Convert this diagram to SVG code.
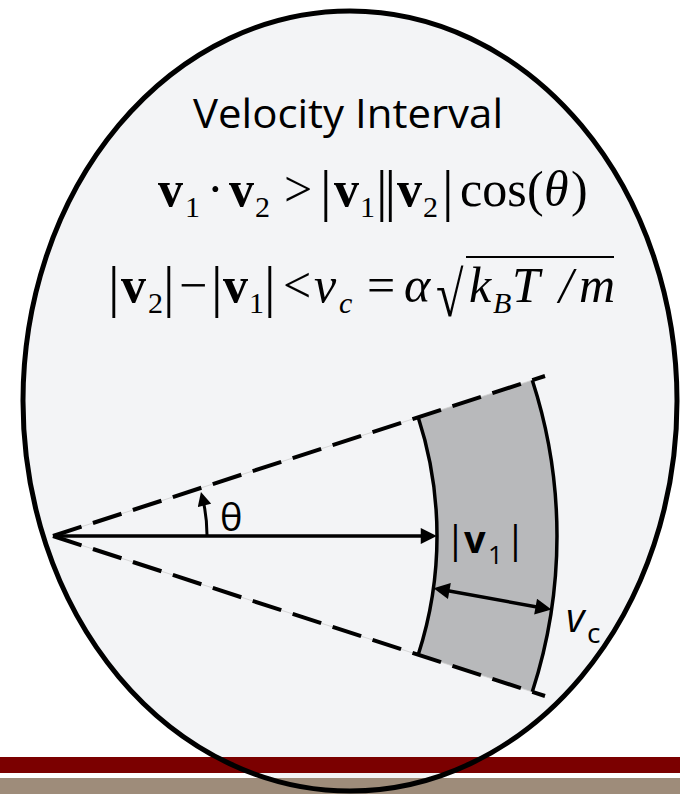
<svg xmlns="http://www.w3.org/2000/svg" width="680" height="794" viewBox="0 0 680 794">
<style>
.m{font-family:"Liberation Serif","Times New Roman",serif;font-size:50px;fill:#000}
.b{font-weight:bold}
.i{font-style:italic}
.s{font-size:30px}
.bar{font-family:"Liberation Serif","Times New Roman",serif;font-size:58px;fill:#000}
.sans{font-family:"Open Sans","Liberation Sans",sans-serif;fill:#000}
.dash{fill:none;stroke:#000;stroke-width:4;stroke-dasharray:30 12}
.hair{fill:none;stroke:#cfcfcf;stroke-width:0.8}
.arc{fill:none;stroke:#000;stroke-width:3.5}
.arr{fill:none;stroke:#000;stroke-width:3.5}
</style>
<defs>
<marker id="ah" viewBox="0 0 10 10" refX="7" refY="5" markerWidth="5" markerHeight="4.6" orient="auto-start-reverse" markerUnits="strokeWidth">
<path d="M0,0 L10,5 L0,10 Z" fill="#000"/>
</marker>
</defs>
<rect width="680" height="794" fill="#fff"/>
<g id="oval">
<ellipse cx="350" cy="401" rx="327" ry="390" fill="#F3F4F6"/>
</g>
<g id="band">
<path d="M418.2,417.3 A384,384 0 0 1 418.2,654.7 L532.3,691.8 A504,504 0 0 0 532.3,380.2 Z" fill="#B8B9BB"/>
</g>
<g id="connectors">
<path class="hair" d="M53,536 L545,376 M53,536 L545,696"/>
<path class="dash" d="M53,536 L545,376"/>
<path class="dash" d="M53,536 L545,696"/>
<path class="arc" d="M418.2,417.3 A384,384 0 0 1 418.2,654.7"/>
<path class="arc" d="M532.3,380.2 A504,504 0 0 1 532.3,691.8"/>
<path class="arr" d="M53,536 L432,536" marker-end="url(#ah)"/>
<path class="arr" d="M438.3,589 L546.7,608.7" marker-start="url(#ah)" marker-end="url(#ah)"/>
<path fill="none" stroke="#000" stroke-width="3" d="M207,536 A154,154 0 0 0 202,496" marker-end="url(#ah)"/>
</g>
<g id="title">
<text class="sans" x="348" y="128" font-size="40" text-anchor="middle" textLength="310" lengthAdjust="spacingAndGlyphs">Velocity Interval</text>
</g>
<g id="eq1">
<text class="m b" x="158" y="206">v</text>
<text class="m s" x="185" y="217">1</text>
<text class="m" x="207" y="206">·</text>
<text class="m b" x="229" y="206">v</text>
<text class="m s" x="255" y="217">2</text>
<text class="m" x="284" y="206">&gt;</text>
<text class="bar" x="320" y="210">|</text>
<text class="m b" x="334" y="206">v</text>
<text class="m s" x="360" y="217">1</text>
<text class="bar" x="376" y="210" letter-spacing="-3">||</text>
<text class="m b" x="397" y="206">v</text>
<text class="m s" x="423" y="217">2</text>
<text class="bar" x="442" y="210">|</text>
<text class="m" x="460" y="206">cos</text>
<text class="m" x="527" y="206">(</text>
<text class="m i" x="544" y="206">θ</text>
<text class="m" x="571" y="206">)</text>
</g>
<g id="eq2">
<text class="bar" x="108" y="306">|</text>
<text class="m b" x="121" y="302">v</text>
<text class="m s" x="148" y="313">2</text>
<text class="bar" x="163" y="306">|</text>
<text class="m" x="179" y="302">−</text>
<text class="bar" x="211" y="306">|</text>
<text class="m b" x="223" y="302">v</text>
<text class="m s" x="249" y="313">1</text>
<text class="bar" x="264" y="306">|</text>
<text class="m" x="283" y="302">&lt;</text>
<text class="m i" x="314" y="302">v</text>
<text class="m i s" x="339" y="313">c</text>
<text class="m" x="367" y="302">=</text>
<text class="m i" x="404" y="302">α</text>
<text class="m" transform="translate(436,316) scale(1,1.28)" x="0" y="0" font-size="60">√</text>
<line x1="466" y1="257" x2="614" y2="257" stroke="#000" stroke-width="2"/>
<text class="m i" x="469" y="302">k</text>
<text class="m i s" x="493" y="313">B</text>
<text class="m i" x="512" y="302">T</text>
<text class="m i" x="559" y="302">/</text>
<text class="m i" x="579" y="302">m</text>
</g>
<g id="theta-label">
<text class="sans" x="220" y="531" font-size="38">θ</text>
</g>
<g id="v1-label">
<text class="sans" x="445" y="553" font-size="38">|</text>
<text class="sans" x="464" y="553" font-size="38" font-weight="bold">v</text>
<text class="sans" x="488" y="564" font-size="26">1</text>
<text class="sans" x="505" y="553" font-size="38">|</text>
</g>
<g id="vc-label">
<text class="sans" x="566" y="632" font-size="40" font-style="italic">v</text>
<text class="sans" x="587" y="643" font-size="28">c</text>
</g>
<g id="footer">
<rect x="0" y="757" width="680" height="16" fill="#7B0000"/>
<rect x="0" y="778" width="680" height="16" fill="#9E8C7A"/>
</g>
<ellipse cx="350" cy="401" rx="327" ry="390" fill="none" stroke="#000" stroke-width="5"/>
</svg>
